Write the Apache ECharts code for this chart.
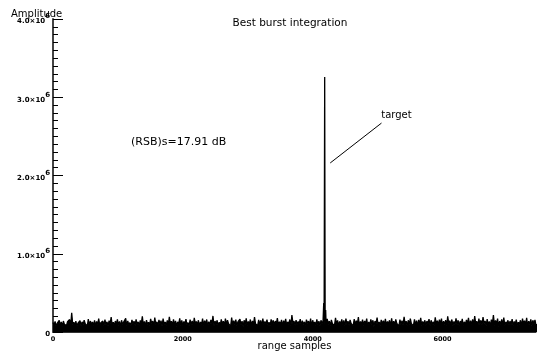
<!DOCTYPE html>
<html>
<head>
<meta charset="utf-8">
<script src="https://cdn.jsdelivr.net/npm/echarts@6/dist/echarts.min.js"></script>
<style>
  html, body { margin: 0; padding: 0; background: #fff; }
  #chart { width: 537px; height: 357px; }
</style>
</head>
<body>
<div id="chart"></div>
<script>
// Range profile after best-burst integration (amplitude in units of 1e3)
const xTicks = [0, 2000, 4000, 6000];
const yTicks = [0, 1000, 2000, 3000, 4000];
const rangeMax = 7440;
const noiseStep = 32;          // samples between successive envelope maxima

// Upper envelope of the clutter/noise floor, one value per noiseStep samples
const noiseHigh = [
  120,135,110,150,128,140,118,132,160,245,125,138,112,145,130,150,122,165,140,128,
  150,135,172,118,140,158,130,145,190,125,140,162,135,150,128,175,142,120,155,138,
  160,130,148,200,135,152,125,168,140,185,130,155,145,170,128,150,195,138,160,142,
  130,175,150,135,165,120,158,142,180,135,150,128,170,145,160,132,155,205,140,150,
  125,160,138,172,150,130,185,145,158,128,165,140,150,175,135,160,142,190,130,155,
  148,170,135,158,125,162,150,140,178,132,155,145,168,130,160,215,140,152,135,165,
  145,130,158,140,172,150,128,160,138,150,145,132,168,140,155,125,180,148,135,160,
  150,172,138,155,128,165,145,190,135,158,142,170,130,162,150,140,185,128,155,145,
  168,135,150,175,140,160,130,158,145,195,138,150,170,128,162,145,155,180,135,150,
  140,165,150,132,188,145,158,170,138,152,200,145,160,135,175,150,140,168,130,155,
  180,145,160,205,138,170,150,190,142,165,135,158,215,148,172,140,160,185,130,150,
  140,165,135,158,125,150,170,145,180,138,160,150,155
];
// Lower envelope, offset by half a step
const noiseLow = [
  90,75,102,85,70,98,82,108,78,95,88,72,100,80,93,105,76,87,98,82,
  74,96,85,108,80,90,72,102,86,78,99,84,70,94,106,80,88,75,100,83,
  92,78,104,86,72,97,81,109,77,90,85,101,74,95,82,88,105,79,91,71,
  98,84,76,103,87,80,95,72,106,89,78,93,82,100,75,87,108,81,96,73,
  85,102,78,91,107,74,88,97,80,104,86,71,95,83,99,77,90,105,81,93,
  76,89,101,84,72,98,87,105,79,92,74,100,85,96,78,108,82,90,103,75,
  94,80,107,86,73,99,83,91,77,104,88,72,97,81,106,85,93,78,101,87,
  75,95,82,108,79,90,102,73,98,84,105,77,89,96,71,103,86,80,99,92,
  82,104,76,91,87,109,74,96,85,100,78,93,107,81,88,72,101,84,95,79,
  106,83,90,75,99,87,103,72,94,80,108,86,77,97,89,74,102,82,91,105,
  78,93,85,101,73,96,88,107,81,90,76,104,84,99,71,95,87,79,103,86,
  92,74,100,83,97,78,105,89,72,94,81,98,86
];
// Target return
const targetSamples = [4170, 4185, 4200];
const targetValues  = [370, 3260, 280];

// Annotations (data coordinates)
const rsbText = '(RSB)s=17.91 dB';
const rsbPos = [1935, 2430];
const targetText = 'target';
const targetLabelPos = [5290, 2770];
const arrowFrom = [5060, 2670];
const arrowTo = [4270, 2160];

// Merge envelope and target points into one ordered trace
const trace = [];
for (let i = 0; i < noiseHigh.length; i++) {
  trace.push([i * noiseStep, noiseHigh[i]]);
  if (i < noiseLow.length) trace.push([i * noiseStep + noiseStep / 2, noiseLow[i]]);
}
targetSamples.forEach((s, k) => trace.push([s, targetValues[k]]));
trace.sort((a, b) => a[0] - b[0]);

const font = 'DejaVu Sans, sans-serif';
const chart = echarts.init(document.getElementById('chart'), null, { renderer: 'canvas' });

chart.setOption({
  animation: false,
  backgroundColor: '#fff',
  title: [{
    text: 'Best burst integration',
    left: 285, top: 13, textAlign: 'center',
    textStyle: { fontFamily: font, fontSize: 10.5, fontWeight: 'normal', color: '#000' }
  }, {
    // y-axis caption, sitting above the top of the axis
    text: 'Amplitude',
    left: 11, top: 9, padding: 0,
    textStyle: { fontFamily: font, fontSize: 10, fontWeight: 'normal', color: '#000' }
  }],
  grid: { left: 53, right: 1, top: 19, bottom: 25, containLabel: false, outerBoundsMode: 'none' },
  xAxis: {
    type: 'value', min: 0, max: rangeMax, interval: 2000,
    name: 'range samples', nameLocation: 'middle', nameGap: 9, nameMoveOverlap: false,
    nameTextStyle: { fontFamily: font, fontSize: 10, color: '#000', verticalAlign: 'top', lineHeight: 10 },
    axisLine: { show: true, lineStyle: { color: '#333', width: 1 } },
    axisTick: { show: true, inside: true, length: 8, lineStyle: { color: '#000' } },
    minorTick: { show: true, splitNumber: 10, length: 2, lineStyle: { color: '#666' } },
    splitLine: { show: false },
    axisLabel: {
      margin: 4, fontFamily: font, fontSize: 6.5, fontWeight: 'bold', color: '#000',
      showMaxLabel: false,
      formatter: v => xTicks.includes(v) ? String(v) : ''
    }
  },
  yAxis: {
    type: 'value', min: 0, max: 4000, interval: 1000,
    axisLine: { show: true, lineStyle: { color: '#444', width: 2 } },
    axisTick: { show: true, inside: true, length: 10, lineStyle: { color: '#000' } },
    minorTick: { show: true, splitNumber: 10, length: 5, lineStyle: { color: '#000' } },
    splitLine: { show: false },
    axisLabel: {
      margin: 3, color: '#000',
      formatter: v => {
        if (!yTicks.includes(v)) return '';
        return v === 0 ? '{m|0}' : '{m|' + (v / 1000).toFixed(1) + '×10}{s|6}';
      },
      rich: {
        m: { fontFamily: font, fontSize: 7, fontWeight: 'bold', color: '#000', lineHeight: 12, verticalAlign: 'bottom' },
        s: { fontFamily: font, fontSize: 7, fontWeight: 'bold', color: '#000', lineHeight: 12, verticalAlign: 'top' }
      }
    }
  },
  series: [{
    type: 'line',
    data: trace,
    showSymbol: false,
    sampling: null,
    lineStyle: { color: '#000', width: 1.3 },
    areaStyle: { color: '#000', opacity: 1 },
    markLine: {
      silent: true, symbol: ['none', 'none'],
      lineStyle: { color: '#000', width: 1, type: 'solid' },
      label: { show: false },
      data: [[{ coord: arrowFrom }, { coord: arrowTo }]]
    },
    markPoint: {
      silent: true, symbol: 'circle', symbolSize: 0,
      label: { show: true, color: '#000', fontFamily: font, fontSize: 10, formatter: p => p.name },
      data: [
        { name: rsbText, coord: rsbPos, label: { fontSize: 11 } },
        { name: targetText, coord: targetLabelPos }
      ]
    }
  }]
});
</script>
</body>
</html>
